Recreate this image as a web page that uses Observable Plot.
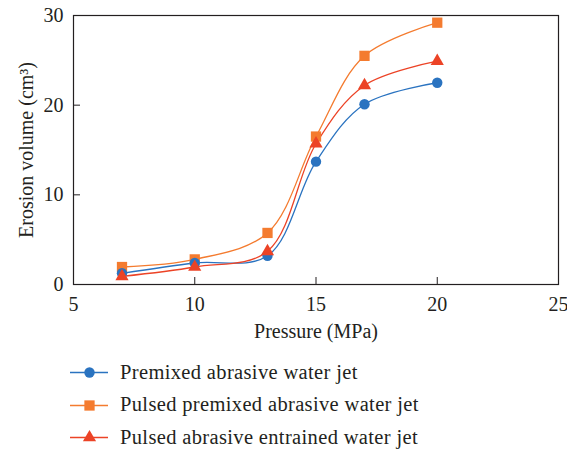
<!DOCTYPE html>
<html>
<head>
<meta charset="utf-8">
<script src="https://cdn.jsdelivr.net/npm/d3@7"></script>
<script src="https://cdn.jsdelivr.net/npm/@observablehq/plot@0.6"></script>
<style>
  html, body { margin: 0; padding: 0; background: #fff; }
  #chart { width: 567px; }
  .legend { margin-top: 11px; font-family: "Liberation Serif", serif; font-size: 20.5px; letter-spacing: 0.35px; color: #231f20; }
  .legend .row { height: 32.5px; display: flex; align-items: center; padding-left: 70px; }
  .legend svg { margin-right: 12px; }
</style>
</head>
<body>
<div id="chart"></div>
<script>
const pressure = [7, 10, 13, 15, 17, 20];
const premixed = [1.25, 2.4, 3.2, 13.7, 20.1, 22.5];
const pulsedPremixed = [1.95, 2.8, 5.75, 16.5, 25.5, 29.2];
const pulsedEntrained = [0.9, 1.95, 3.7, 15.7, 22.2, 24.9];
const seriesNames = ["Premixed abrasive water jet", "Pulsed premixed abrasive water jet", "Pulsed abrasive entrained water jet"];
const xTicks = [5, 10, 15, 20, 25];
const yTicks = [0, 10, 20, 30];

const seriesColors = ["#2a73c0", "#f47b2f", "#ec4326"];
const seriesSymbols = ["circle", "square", "triangle"];
const seriesR = [5.2, 5.8, 4.9];
const seriesValues = [premixed, pulsedPremixed, pulsedEntrained];

const data = [];
seriesValues.forEach((vals, i) => vals.forEach((v, j) => data.push({series: seriesNames[i], x: pressure[j], y: v})));

const drawOrder = [1, 0, 2];
const marks = [];
for (const i of drawOrder) {
  const d = data.filter(r => r.series === seriesNames[i]);
  marks.push(Plot.line(d, {x: "x", y: "y", stroke: seriesColors[i], strokeWidth: 1.3, curve: "catmull-rom"}));
}
for (const i of drawOrder) {
  const d = data.filter(r => r.series === seriesNames[i]);
  marks.push(Plot.dot(d, {x: "x", y: "y", fill: seriesColors[i], symbol: seriesSymbols[i], r: seriesR[i], stroke: "none"}));
}

const plot = Plot.plot({
  width: 567,
  height: 345,
  marginLeft: 73,
  marginRight: 9,
  marginTop: 15,
  marginBottom: 61,
  style: {fontFamily: "Liberation Serif, serif", fontSize: "20px", color: "#231f20", background: "#fff"},
  x: {domain: [5, 25]},
  y: {domain: [0, 30]},
  marks: [
    Plot.frame({stroke: "#231f20", strokeWidth: 1.2}),
    Plot.axisX({ticks: xTicks, tickSize: -7, tickPadding: 19, label: "Pressure (MPa)", labelAnchor: "center", labelOffset: 53, labelArrow: "none", fill: "#231f20", stroke: "#231f20"}),
    Plot.axisY({ticks: yTicks, tickSize: -7, tickPadding: 17, label: "Erosion volume (cm³)", labelAnchor: "center", labelOffset: 55, labelArrow: "none", fill: "#231f20", stroke: "#231f20"}),
    ...marks
  ]
});
document.getElementById("chart").appendChild(plot);

const legend = document.createElement("div");
legend.className = "legend";
seriesNames.forEach((name, i) => {
  const row = document.createElement("div");
  row.className = "row";
  const sw = Plot.plot({
    width: 38, height: 20, margin: 0,
    x: {domain: [0, 1], axis: null}, y: {domain: [0, 1], axis: null},
    marks: [
      Plot.ruleY([0.5], {x1: 0, x2: 1, stroke: seriesColors[i], strokeWidth: 1.3}),
      Plot.dot([0], {x: () => 0.5, y: () => 0.5, symbol: seriesSymbols[i], fill: seriesColors[i], r: seriesR[i]})
    ]
  });
  row.appendChild(sw);
  const t = document.createElement("span");
  t.textContent = name;
  row.appendChild(t);
  legend.appendChild(row);
});
document.getElementById("chart").appendChild(legend);
</script>
</body>
</html>
